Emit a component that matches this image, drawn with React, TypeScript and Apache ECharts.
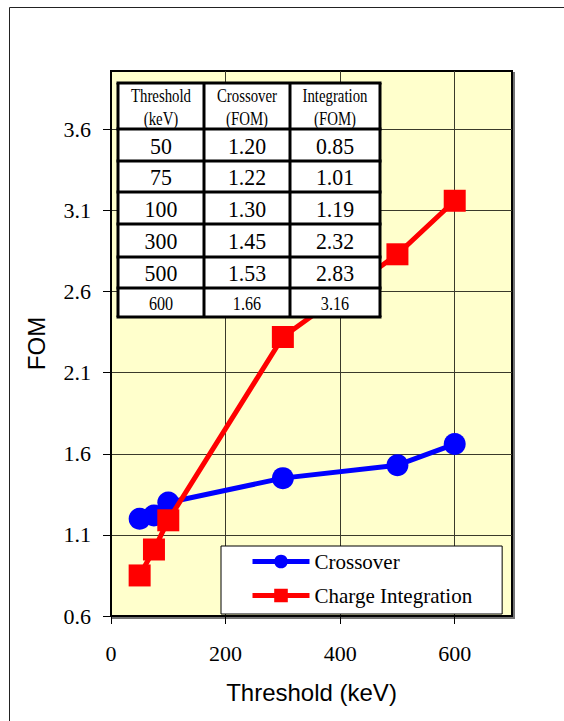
import React, { useEffect, useRef } from "react";
import * as echarts from "echarts";

const thresholds = [50, 75, 100, 300, 500, 600];
const crossover = [1.2, 1.22, 1.3, 1.45, 1.53, 1.66];
const integration = [0.85, 1.01, 1.19, 2.32, 2.83, 3.16];
const yTicks = [0.6, 1.1, 1.6, 2.1, 2.6, 3.1, 3.6];
const xTicks = [0, 200, 400, 600];
const tableHeaders = [
  ["Threshold", "(keV)"],
  ["Crossover", "(FOM)"],
  ["Integration", "(FOM)"],
];

const SERIF = "'Liberation Serif', 'Times New Roman', serif";
const SANS = "'Liberation Sans', Arial, sans-serif";

export default function App() {
  const ref = useRef<HTMLDivElement>(null);
  useEffect(() => {
    if (!ref.current) return;
    const chart = echarts.init(ref.current, null, { renderer: "svg" });

    const colX = [118, 204, 290, 380];
    const rowY = [83, 129, 161, 192, 224, 257, 288, 317];
    const colC = [0, 1, 2].map((i) => (colX[i] + colX[i + 1]) / 2);
    const graphics: any[] = [];
    // outer frame
    graphics.push({
      type: "rect",
      z: 0,
      silent: true,
      shape: { x: 9.5, y: 7.5, width: 620, height: 800 },
      style: { fill: "none", stroke: "#222", lineWidth: 1 },
    });
    // table background
    graphics.push({
      type: "rect",
      z: 100,
      shape: { x: colX[0], y: rowY[0], width: colX[3] - colX[0], height: rowY[rowY.length - 1] - rowY[0] },
      style: { fill: "#fff", stroke: "none" },
    });
    rowY.forEach((y) => {
      graphics.push({
        type: "line",
        z: 102,
        shape: { x1: colX[0] - 1.5, y1: y, x2: colX[3] + 1.5, y2: y },
        style: { stroke: "#000", lineWidth: 3 },
      });
    });
    colX.forEach((x) => {
      graphics.push({
        type: "line",
        z: 102,
        shape: { x1: x, y1: rowY[0], x2: x, y2: rowY[rowY.length - 1] },
        style: { stroke: "#000", lineWidth: 3 },
      });
    });
    tableHeaders.forEach((lines, c) => {
      lines.forEach((t, l) => {
        graphics.push({
          type: "text",
          z: 103,
          x: colC[c],
          y: 96 + l * 23,
          scaleX: 0.78,
          style: {
            text: t,
            x: 0,
            y: 0,
            align: "center",
            verticalAlign: "middle",
            fontFamily: SERIF,
            fontSize: 19,
            fill: "#000",
          },
        });
      });
    });
    thresholds.forEach((th, r) => {
      const cy = (rowY[r + 1] + rowY[r + 2]) / 2 + 1;
      const last = r === thresholds.length - 1;
      const vals = [String(th), crossover[r].toFixed(2), integration[r].toFixed(2)];
      vals.forEach((v, c) => {
        graphics.push({
          type: "text",
          z: 103,
          x: colC[c],
          y: cy,
          scaleX: last ? 0.85 : 0.95,
          style: {
            text: v,
            x: 0,
            y: 0,
            align: "center",
            verticalAlign: "middle",
            fontFamily: SERIF,
            fontSize: last ? 19 : 23,
            fill: "#000",
          },
        });
      });
    });

    chart.setOption({
      animation: false,
      grid: {
        left: 111,
        right: 52,
        top: 71,
        bottom: 105,
        show: true,
        backgroundColor: "#FFFFCC",
        borderColor: "#000",
        borderWidth: 2,
        shadowColor: "rgba(0,0,0,0.55)",
        shadowOffsetX: 2,
        shadowOffsetY: 2,
        shadowBlur: 0,
      },
      xAxis: {
        type: "value",
        min: 0,
        max: 700,
        interval: 200,
        name: "Threshold (keV)",
        nameLocation: "middle",
        nameGap: 64,
        nameTextStyle: { fontFamily: SANS, fontSize: 24, color: "#000" },
        axisLine: { show: true, lineStyle: { color: "#000", width: 2 } },
        axisTick: { show: true, length: 8, customValues: xTicks, lineStyle: { color: "#000", width: 1 } },
        axisLabel: {
          customValues: xTicks,
          margin: 26,
          fontFamily: SERIF,
          fontSize: 22,
          color: "#000",
        },
        splitLine: { show: true, lineStyle: { color: "#3a3a2a", width: 1 } },
      },
      yAxis: {
        type: "value",
        min: 0.6,
        max: 3.96,
        interval: 0.5,
        name: "FOM",
        nameLocation: "middle",
        nameGap: 63,
        nameTextStyle: { fontFamily: SANS, fontSize: 24, color: "#000" },
        axisLine: { show: true, lineStyle: { color: "#000", width: 2 } },
        axisTick: { show: true, length: 8, customValues: yTicks, lineStyle: { color: "#000", width: 1 } },
        axisLabel: {
          customValues: yTicks,
          margin: 20,
          fontFamily: SERIF,
          fontSize: 22,
          color: "#000",
          formatter: (v: number) => v.toFixed(1),
        },
        splitLine: { show: true, lineStyle: { color: "#3a3a2a", width: 1 } },
      },
      legend: {
        orient: "vertical",
        left: 221,
        top: 546,
        backgroundColor: "#fff",
        borderColor: "#000",
        borderWidth: 1,
        padding: [5, 30, 8, 29],
        itemWidth: 57,
        itemHeight: 17,
        itemGap: 13,
        lineStyle: { width: 5 },
        textStyle: { fontFamily: SERIF, fontSize: 21, color: "#000" },
        data: ["Crossover", "Charge Integration"],
      },
      series: [
        {
          name: "Crossover",
          type: "line",
          data: thresholds.map((t, i) => [t, crossover[i]]),
          symbol: "circle",
          symbolSize: 22,
          lineStyle: { color: "#0000FF", width: 5 },
          itemStyle: { color: "#0000FF" },
          z: 3,
        },
        {
          name: "Charge Integration",
          type: "line",
          data: thresholds.map((t, i) => [t, integration[i]]),
          symbol: "rect",
          symbolSize: 22,
          lineStyle: { color: "#FF0000", width: 5 },
          itemStyle: { color: "#FF0000" },
          z: 4,
        },
      ],
      graphic: graphics,
    });
    return () => chart.dispose();
  }, []);
  return (
    <div
      ref={ref}
      style={{ position: "fixed", left: 0, top: 0, width: 564, height: 721, background: "#fff" }}
    />
  );
}
